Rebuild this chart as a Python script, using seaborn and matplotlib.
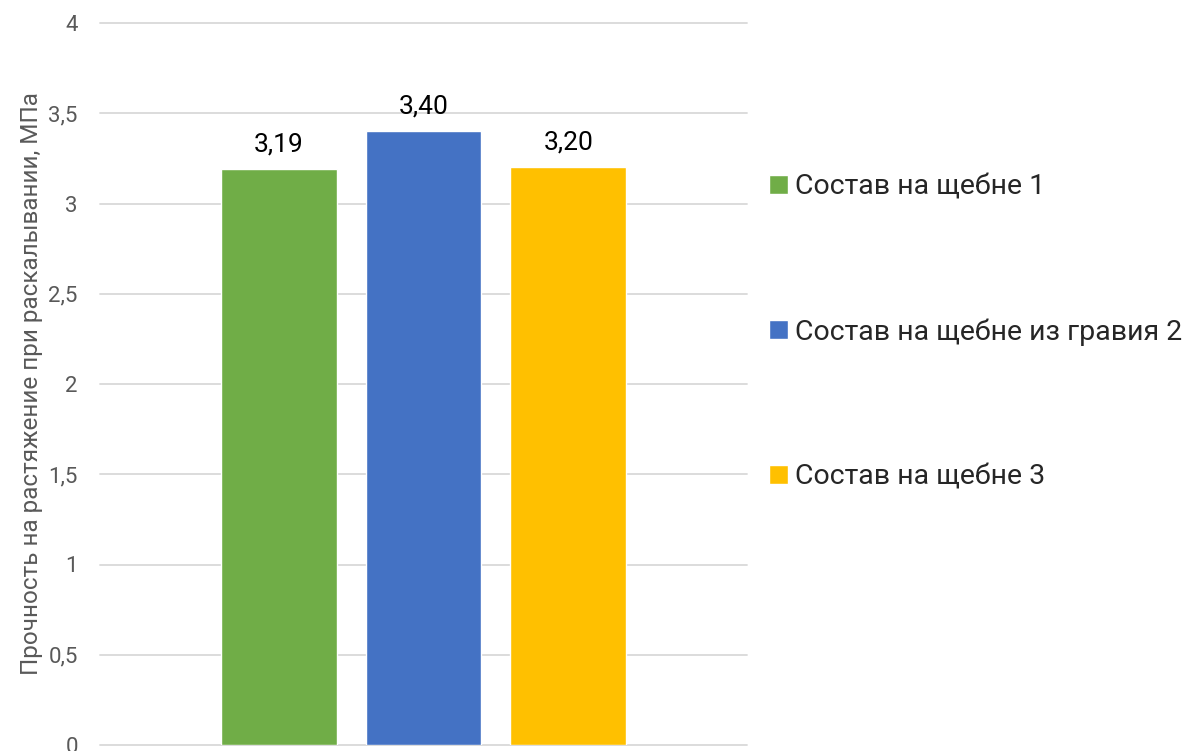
import matplotlib.pyplot as plt
import seaborn as sns
import pandas as pd
from matplotlib.patches import Patch

# данные
sostavy = ['Состав на щебне 1', 'Состав на щебне из гравия 2', 'Состав на щебне 3']
prochnost = [3.19, 3.40, 3.20]
cveta = ['#70AD47', '#4472C4', '#FFC000']
yticks = [0, 0.5, 1, 1.5, 2, 2.5, 3, 3.5, 4]

df = pd.DataFrame({'Состав': sostavy, 'Прочность': prochnost})

sns.set_style('white')
plt.rcParams['font.family'] = ['Roboto', 'DejaVu Sans']

fig = plt.figure(figsize=(11.83, 7.51), dpi=100)
ax = fig.add_axes([100 / 1183, 6 / 751, 647 / 1183, 722 / 751])

sns.barplot(data=df, x='Состав', y='Прочность', hue='Состав', palette=cveta,
            width=0.8, ax=ax, legend=False, saturation=1)

ax.set_ylim(0, 4)
ax.set_xlim(-1.235, 3.235)
ax.set_yticks(yticks)
ax.set_yticklabels([f'{v:g}'.replace('.', ',') for v in yticks], color='#595959', fontsize=16)
ax.tick_params(axis='y', length=0, pad=16)
ax.set_xticks([])
ax.set_xlabel('')
ax.set_ylabel('Прочность на растяжение при раскалывании, МПа', color='#595959',
              fontsize=17.5, labelpad=4)
for s in ax.spines.values():
    s.set_visible(False)
ax.grid(axis='y', color='#D9D9D9', linewidth=1.3)
ax.set_axisbelow(True)
for gl in ax.get_ygridlines():
    gl.set_clip_on(False)

for cont in ax.containers:
    ax.bar_label(cont, labels=[f'{v:.2f}'.replace('.', ',') for v in cont.datavalues],
                 padding=9, fontsize=19, color='#000000')

handles = [Patch(facecolor=c, label=l) for c, l in zip(cveta, sostavy)]
fig.legend(handles=handles, loc='upper left', bbox_to_anchor=(758 / 1183, 1 - 162 / 751),
           frameon=False, fontsize=20.5, labelspacing=4.14, handlelength=0.64,
           handleheight=0.64, handletextpad=0.25, borderaxespad=0)

plt.savefig('out.png', dpi=100)
